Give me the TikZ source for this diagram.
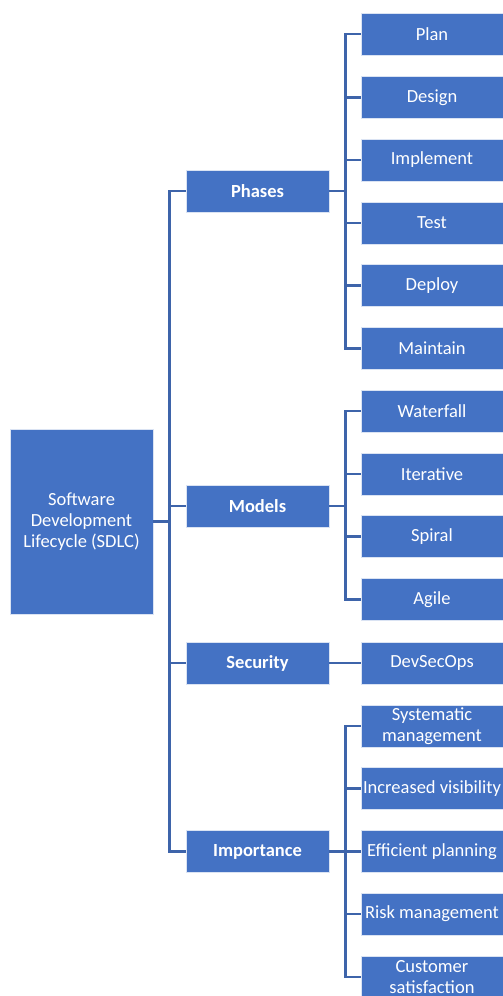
\documentclass[tikz,border=0pt]{standalone}
\usepackage{fontspec}
\setmainfont{Carlito}
\definecolor{boxblue}{RGB}{68,114,196}
\definecolor{linkblue}{RGB}{62,100,170}
\begin{document}
\begin{tikzpicture}[x=1pt,y=-1pt,
  box/.style={fill=boxblue, draw=white!80!boxblue, line width=0.8pt, text=white,
    font=\fontsize{18.5}{21}\selectfont, align=center, inner sep=0pt},
  rootbox/.style={box, minimum width=143pt, minimum height=185pt},
  midbox/.style={box, minimum width=143pt, minimum height=42pt,
    font=\bfseries\fontsize{18.5}{21}\selectfont},
  leafbox/.style={box, minimum width=142pt, minimum height=42pt},
  link/.style={draw=linkblue, line width=2.4pt}]
\useasboundingbox (0,0) rectangle (503,996);

% root
\node[rootbox] (root) at (81.5,521.5) {Software\\Development\\Lifecycle (SDLC)};

% second level
\node[midbox] (phases) at (257.5,191) {Phases};
\node[midbox] (models) at (257.5,506) {Models};
\node[midbox] (security) at (257.5,663) {Security};
\node[midbox] (importance) at (257.5,851.5) {Importance};

% leaves
\node[leafbox] (plan) at (432,34) {Plan};
\node[leafbox] (design) at (432,97.5) {Design};
\node[leafbox] (implement) at (432,160) {Implement};
\node[leafbox] (test) at (432,223) {Test};
\node[leafbox] (deploy) at (432,285.5) {Deploy};
\node[leafbox] (maintain) at (432,348.5) {Maintain};

\node[leafbox] (waterfall) at (432,411) {Waterfall};
\node[leafbox] (iterative) at (432,474) {Iterative};
\node[leafbox] (spiral) at (432,536.5) {Spiral};
\node[leafbox] (agile) at (432,599.5) {Agile};

\node[leafbox] (devsecops) at (432,663) {DevSecOps};

\node[leafbox] (systematic) at (432,726) {Systematic\\management};
\node[leafbox] (visibility) at (432,788.5) {Increased visibility};
\node[leafbox] (planning) at (432,851.5) {Efficient planning};
\node[leafbox] (risk) at (432,914) {Risk management};
\node[leafbox] (customer) at (432,977) {Customer\\satisfaction};

% connectors
\foreach \c in {phases,models,security,importance}
  \draw[link] (root.east) -- ++(16,0) |- (\c.west);
\foreach \c in {plan,design,implement,test,deploy,maintain}
  \draw[link] (phases.east) -- ++(16,0) |- (\c.west);
\foreach \c in {waterfall,iterative,spiral,agile}
  \draw[link] (models.east) -- ++(16,0) |- (\c.west);
\draw[link] (security.east) -- (devsecops.west);
\foreach \c in {systematic,visibility,planning,risk,customer}
  \draw[link] (importance.east) -- ++(16,0) |- (\c.west);
\end{tikzpicture}
\end{document}
